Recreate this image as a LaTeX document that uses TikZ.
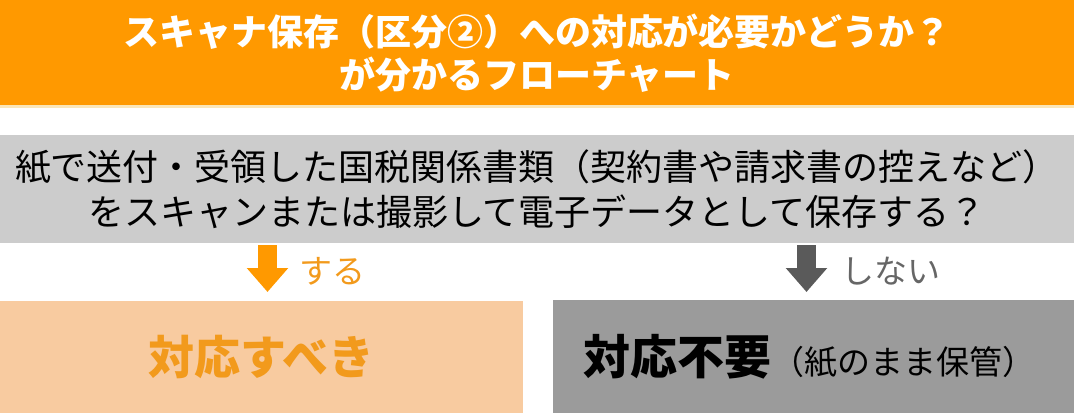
\documentclass[tikz,border=0pt]{standalone}
\usepackage{fontspec}
\setmainfont{Noto Sans CJK JP}
\usetikzlibrary{arrows.meta}
\definecolor{titleorange}{HTML}{FF9900}
\definecolor{titleshade}{HTML}{FBE6B8}
\definecolor{questiongray}{HTML}{CCCCCC}
\definecolor{yespeach}{HTML}{F8CBA0}
\definecolor{yesorange}{HTML}{F29A1C}
\definecolor{nogray}{HTML}{9B9B9B}
\definecolor{arrowgray}{HTML}{5A5A5A}
\definecolor{labelgray}{HTML}{666666}
\begin{document}
\begin{tikzpicture}[x=1pt,y=-1pt,
    band/.style={inner sep=0pt,outer sep=0pt,anchor=north west},
    blockarrow/.style={line width=19pt,-{Triangle[width=40pt,length=24pt]}},
    answer/.style={font=\fontsize{33}{33}\selectfont,anchor=west}]
    \useasboundingbox (0,0) rectangle (1074,413);

    % タイトル帯
    \fill[titleorange] (0,0) rectangle (1074,105);
    \fill[titleshade] (0,105) rectangle (1074,108);
    \node[align=center,text=white,font=\bfseries\fontsize{36}{43}\selectfont] (title) at (537,53)
        {スキャナ保存（区分②）への対応が必要かどうか？\\が分かるフローチャート};

    % 質問
    \node[band,fill=questiongray,minimum width=1074pt,minimum height=108pt] (question) at (0,135) {};
    \node[align=center,font=\fontsize{36}{45}\selectfont] (qtext) at (question.center)
        {紙で送付・受領した国税関係書類（契約書や請求書の控えなど）\\をスキャンまたは撮影して電子データとして保存する？};

    % 回答
    \node[band,fill=yespeach,minimum width=523pt,minimum height=112pt] (yes) at (0,301) {};
    \node[text=yesorange,font=\bfseries\fontsize{46}{46}\selectfont] at (yes.center) {対応すべき};
    \node[band,fill=nogray,minimum width=521pt,minimum height=113pt] (no) at (553,300) {};
    \node at ([xshift=-4pt]no.center) {\fontsize{47}{47}\selectfont\bfseries 対応不要\mdseries\fontsize{33}{33}\selectfont（紙のまま保管）};

    % 矢印
    \draw[blockarrow,titleorange] ([xshift=6pt,yshift=-2pt]question.south -| yes.north)
        -- ([xshift=6pt,yshift=9pt]yes.north);
    \node[answer,text=yesorange] (yeslabel) at (296,271) {する};
    \draw[blockarrow,arrowgray] ([xshift=-7pt,yshift=-2pt]question.south -| no.north)
        -- ([xshift=-7pt,yshift=8pt]no.north);
    \node[answer,text=labelgray] (nolabel) at (838,271) {しない};
\end{tikzpicture}
\end{document}
